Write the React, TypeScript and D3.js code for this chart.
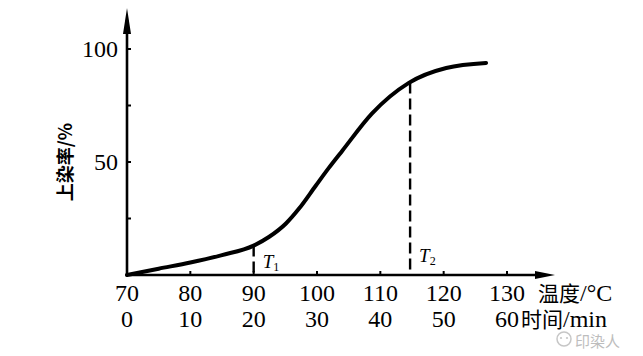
import React from "react";
import * as d3 from "d3";

const temps = [70, 75, 80, 85, 90, 92.4, 95.1, 97.2, 99.8, 101.9, 104, 108.7, 114.5, 120.4, 126.7];
const values = [0, 2.8, 5.5, 8.8, 13, 16.8, 22.8, 29.5, 39.5, 47.5, 55, 71.5, 85, 91.6, 93.8];
const tempTicks = [70, 80, 90, 100, 110, 120, 130];
const timeTicks = [0, 10, 20, 30, 40, 50, 60];
const yTickLabels = [50, 100];
const yTickMarks = [25, 50, 75, 100];
const markers = [
  { name: "T", sub: "1", temp: 90 },
  { name: "T", sub: "2", temp: 114.7 },
];

export default function App() {
  const W = 643, H = 356;
  const x = d3.scaleLinear().domain([70, 130]).range([127, 507]);
  const y = d3.scaleLinear().domain([0, 100]).range([275, 49]);
  const pts: [number, number][] = temps.map((t, i) => [t, values[i]]);
  const line = d3
    .line<[number, number]>()
    .x((d) => x(d[0]))
    .y((d) => y(d[1]))
    .curve(d3.curveMonotoneX);
  const interp = (t: number) => {
    for (let i = 0; i < temps.length - 1; i++) {
      if (t >= temps[i] && t <= temps[i + 1]) {
        const f = (t - temps[i]) / (temps[i + 1] - temps[i]);
        return values[i] + f * (values[i + 1] - values[i]);
      }
    }
    return 0;
  };
  const serif = "'Liberation Serif', 'DejaVu Serif', serif";
  const cjk = "'Noto Sans CJK SC', sans-serif";
  const x0 = x(70), y0 = y(0);
  return (
    <svg width={W} height={H} style={{ position: "absolute", left: 0, top: 0, background: "#fff" }}>
      <rect width={W} height={H} fill="#fff" />
      {/* y axis */}
      <line x1={x0} y1={y0 + 1} x2={x0} y2={20} stroke="#000" strokeWidth={2.6} />
      <path d={`M${x0},8 L${x0 + 4},34 L${x0 - 4},34 Z`} fill="#000" />
      {yTickMarks.map((v) => (
        <line key={v} x1={x0} x2={x0 + 4} y1={y(v)} y2={y(v)} stroke="#000" strokeWidth={2} />
      ))}
      {yTickLabels.map((v) => (
        <text key={v} x={x0 - 9} y={y(v) + 8} textAnchor="end" fontFamily={serif} fontSize={24} fill="#000">
          {v}
        </text>
      ))}
      {/* x axis */}
      <line x1={x0 - 1} y1={y0} x2={545} y2={y0} stroke="#000" strokeWidth={2.6} />
      <path d={`M555,${y0} L535,${y0 - 4} L535,${y0 + 4} Z`} fill="#000" />
      {tempTicks.map((t) => (
        <line key={t} x1={x(t)} x2={x(t)} y1={y0} y2={y0 - 4} stroke="#000" strokeWidth={2} />
      ))}
      {tempTicks.map((t) => (
        <text key={t} x={x(t)} y={301} textAnchor="middle" fontFamily={serif} fontSize={24} fill="#000">
          {t}
        </text>
      ))}
      {timeTicks.map((m) => (
        <text key={m} x={x(70 + m)} y={327} textAnchor="middle" fontFamily={serif} fontSize={24} fill="#000">
          {m}
        </text>
      ))}
      <text x={538} y={301} fontFamily={cjk} fontSize={21} fill="#000">
        温度<tspan fontFamily={serif} fontSize={24}>/°C</tspan>
      </text>
      <text x={521} y={327} fontFamily={cjk} fontSize={21} fill="#000">
        时间<tspan fontFamily={serif} fontSize={24}>/min</tspan>
      </text>
      {/* y label */}
      <text
        transform={`translate(72,162) rotate(-90)`}
        textAnchor="middle"
        fontFamily={cjk}
        fontSize={18}
        fontWeight="bold"
        fill="#000"
      >
        上染率/%
      </text>
      {/* dashed markers */}
      {markers.map((m) => (
        <g key={m.sub}>
          <line
            x1={x(m.temp)}
            x2={x(m.temp)}
            y1={y(interp(m.temp))}
            y2={y0}
            stroke="#000"
            strokeWidth={2.4}
            strokeDasharray="11,5"
          />
          <text x={x(m.temp) + 9} y={m.sub === "1" ? 268 : 262} fontFamily={serif} fontStyle="italic" fontSize={19} fill="#000">
            {m.name}
            <tspan fontStyle="normal" fontSize={12} dy={3}>{m.sub}</tspan>
          </text>
        </g>
      ))}
      {/* curve */}
      <path d={line(pts) || ""} fill="none" stroke="#000" strokeWidth={4} strokeLinecap="round" />
      {/* watermark */}
      <g opacity={0.55}>
        <circle cx={564} cy={339} r={7} fill="none" stroke="#999" strokeWidth={1.5} />
        <circle cx={561} cy={338} r={1.1} fill="#999" />
        <circle cx={567} cy={338} r={1.1} fill="#999" />
        <text x={575} y={347} fontFamily={cjk} fontSize={15} fill="#888">
          印染人
        </text>
      </g>
    </svg>
  );
}
